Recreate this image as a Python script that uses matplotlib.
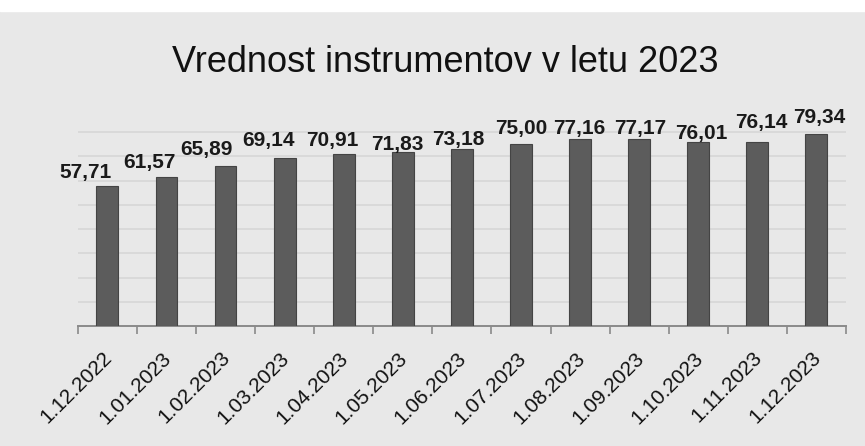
import matplotlib.pyplot as plt
import matplotlib.transforms as mtransforms
from matplotlib.patches import Rectangle
from matplotlib.ticker import FixedLocator

plt.rcParams['font.family'] = ['Liberation Sans', 'DejaVu Sans']

dates = ["1.12.2022", "1.01.2023", "1.02.2023", "1.03.2023", "1.04.2023",
         "1.05.2023", "1.06.2023", "1.07.2023", "1.08.2023", "1.09.2023",
         "1.10.2023", "1.11.2023", "1.12.2023"]
values = [57.71, 61.57, 65.89, 69.14, 70.91, 71.83, 73.18,
          75.00, 77.16, 77.17, 76.01, 76.14, 79.34]

# label nudges (pixels) as placed in the original chart
label_dx = [-22, -17, -19, -16, -11, -6, -4, 0, -1, 1, 3, 4, 3]
label_dy = [4, 5, 7, 8, 4, -2, 0, 6, 1, 1, -1, 10, 7]

fig = plt.figure(figsize=(8.65, 4.46), dpi=100, facecolor="#e8e8e8")
fig.patches.append(Rectangle((0, 0.975), 1, 0.03, transform=fig.transFigure,
                             color="white", zorder=0))
ax = fig.add_axes([0.090, 0.269, 0.888, 0.489])
ax.set_facecolor("none")

x = range(len(values))
bars = ax.bar(x, values, width=0.37, color="#5c5c5c", edgecolor="#444444",
              linewidth=0.8, zorder=3)

for i, (b, v) in enumerate(zip(bars, values)):
    ax.annotate(f"{v:.2f}".replace(".", ","),
                (b.get_x() + b.get_width() / 2, v),
                xytext=(label_dx[i], label_dy[i]), textcoords="offset pixels",
                ha="center", va="bottom", fontsize=15, fontweight="bold",
                color="#1a1a1a", zorder=4)

ax.set_xlim(-0.5, len(values) - 0.5)
ax.set_ylim(0, 90)
ax.set_yticks(range(10, 90, 10))
ax.yaxis.grid(True, color="#d6d6d6", linewidth=1.2, zorder=0)
ax.tick_params(axis="y", left=False, labelleft=False)

ax.set_xticks(list(x))
ax.set_xticklabels(dates, rotation=45, ha="right", va="top",
                   rotation_mode="anchor", fontsize=15, color="#111111")
ax.tick_params(axis="x", which="major", length=0, pad=16)
shift = mtransforms.ScaledTranslation(-5 / 100, 0, fig.dpi_scale_trans)
for lbl in ax.get_xticklabels():
    lbl.set_transform(lbl.get_transform() + shift)
ax.xaxis.set_minor_locator(FixedLocator([i - 0.5 for i in range(len(values) + 1)]))
ax.tick_params(axis="x", which="minor", length=6, width=1.2, color="#8a8a8a")

for s in ["top", "right", "left"]:
    ax.spines[s].set_visible(False)
ax.spines["bottom"].set_color("#8a8a8a")
ax.spines["bottom"].set_linewidth(1.4)

fig.text(0.515, 0.86, "Vrednost instrumentov v letu 2023", ha="center",
         va="center", fontsize=26, color="#111111")

fig.savefig("out.png", dpi=100, facecolor=fig.get_facecolor())
